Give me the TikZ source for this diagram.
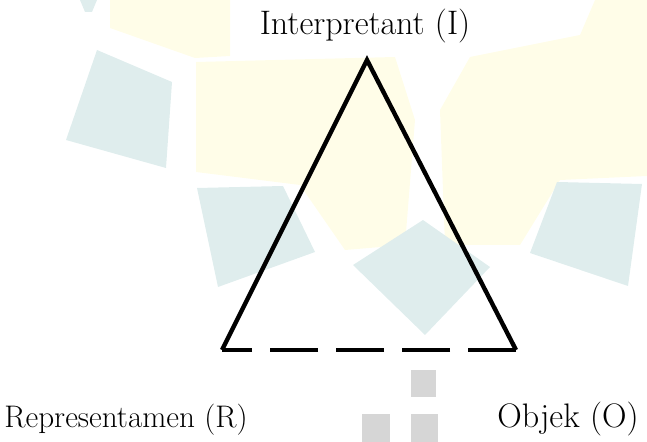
\documentclass[tikz,border=0pt]{standalone}
\usetikzlibrary{positioning}
\definecolor{wmyellow}{HTML}{FFFDE8}
\definecolor{wmcyan}{HTML}{DFEDED}
\definecolor{wmgray}{HTML}{D6D6D6}
\begin{document}
\begin{tikzpicture}[x=0.5pt,y=-0.5pt,
  lbl/.style={anchor=base,inner sep=0pt,font=\fontsize{17}{20}\selectfont},
  side/.style={line width=2.2pt,line join=miter},
  dashside/.style={line width=2.2pt,dash pattern=on 24pt off 9pt},
  wmy/.style={fill=wmyellow},wmc/.style={fill=wmcyan},wmg/.style={fill=wmgray}]
\useasboundingbox (0,0) rectangle (647,442);
% faint watermark behind the triangle
\fill[wmy] (110,0)--(230,0)--(230,56)--(195,58)--(110,28)--cycle;
\fill[wmy] (196,62)--(395,57)--(415,120)--(405,245)--(345,250)--(300,185)--(196,172)--cycle;
\fill[wmy] (440,110)--(470,57)--(580,35)--(595,0)--(647,0)--(647,176)--(560,180)--(520,245)--(445,245)--cycle;
\fill[wmc] (80,0)--(97,0)--(92,12)--(85,12)--cycle;
\fill[wmc] (97,50)--(172,82)--(166,168)--(66,140)--cycle;
\fill[wmc] (197,188)--(283,186)--(315,252)--(218,287)--cycle;
\fill[wmc] (353,265)--(423,220)--(490,267)--(425,335)--cycle;
\fill[wmc] (557,182)--(642,184)--(628,286)--(530,253)--cycle;
\fill[wmg] (411,370) rectangle (436,397);
\fill[wmg] (362,414) rectangle (390,442);
\fill[wmg] (411,414) rectangle (438,442);
% triangle
\coordinate (i) at (367,60);
\coordinate (r) at (222,350);
\coordinate (o) at (516,350);
\draw[side] (r)--(i)--(o);
\draw[dashside] (o)--(r);
% labels
\node[lbl] (interp) at (365,35) {Interpretant (I)};
\node[lbl,anchor=base west,font=\fontsize{15.6}{18}\selectfont] (repr) at (4,428) {Representamen (R)};
\node[lbl,anchor=base east] (objek) at (639,428) {Objek (O)};
\end{tikzpicture}
\end{document}
